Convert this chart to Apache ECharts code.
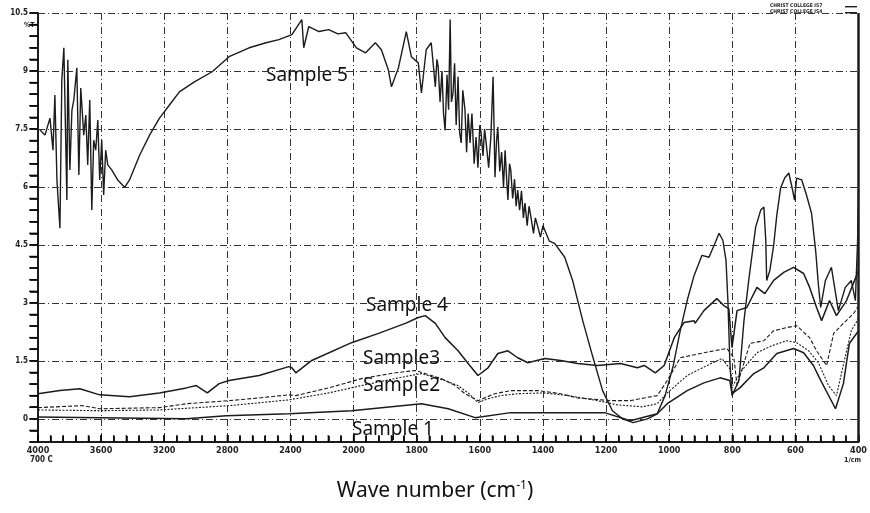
<!DOCTYPE html>
<html>
<head>
<meta charset="utf-8">
<script src="https://cdn.jsdelivr.net/npm/echarts@6/dist/echarts.min.js"></script>
<style>
html, body { margin: 0; padding: 0; background: #fff; }
#box { width: 870px; height: 513px; }
</style>
</head>
<body>
<div id="box"></div>
<script>
// tick labels of the wavenumber axis (scale changes at 2000)
var xTickLabels = ['4000', '3600', '3200', '2800', '2400', '2000', '1800', '1600', '1400', '1200', '1000', '800', '600', '400'];
var yTicks = [0, 1.5, 3, 4.5, 6, 7.5, 9, 10.5];

// [wavenumber 1/cm, %T]
var sample5 = [[3987, 7.47], [3956, 7.34], [3924, 7.78], [3905, 6.95], [3893, 8.38], [3880, 6.18], [3861, 4.93], [3849, 8.77], [3836, 9.6], [3817, 5.66], [3811, 9.29], [3798, 6.44], [3785, 7.99], [3773, 8.25], [3754, 9.08], [3741, 6.31], [3729, 8.56], [3710, 7.34], [3697, 7.86], [3685, 6.57], [3672, 8.25], [3659, 5.4], [3647, 7.21], [3634, 6.95], [3621, 7.73], [3609, 6.18], [3596, 7.21], [3584, 5.79], [3571, 6.95], [3558, 6.57], [3533, 6.44], [3495, 6.18], [3451, 5.99], [3420, 6.18], [3356, 6.82], [3293, 7.34], [3230, 7.78], [3167, 8.12], [3104, 8.46], [3009, 8.72], [2896, 8.98], [2789, 9.37], [2662, 9.6], [2555, 9.73], [2473, 9.81], [2391, 9.94], [2328, 10.33], [2316, 9.6], [2284, 10.15], [2220, 10.02], [2158, 10.07], [2100, 9.96], [2050, 9.99], [1991, 9.6], [1962, 9.47], [1931, 9.73], [1912, 9.55], [1890, 9.03], [1880, 8.59], [1858, 9.08], [1833, 10.02], [1817, 9.37], [1795, 9.21], [1785, 8.43], [1770, 9.55], [1754, 9.73], [1741, 8.59], [1736, 9.3], [1732, 9.11], [1726, 8.2], [1720, 9.0], [1715, 7.9], [1710, 7.47], [1704, 8.9], [1699, 8.0], [1694, 10.33], [1690, 8.2], [1685, 8.43], [1680, 9.2], [1675, 7.6], [1669, 8.85], [1664, 7.4], [1659, 7.14], [1654, 8.5], [1647, 7.99], [1642, 6.9], [1637, 7.9], [1631, 7.14], [1625, 7.9], [1618, 6.6], [1612, 7.29], [1606, 6.5], [1600, 7.6], [1596, 7.4], [1590, 6.8], [1585, 7.5], [1580, 7.14], [1572, 6.5], [1565, 7.3], [1558, 8.85], [1552, 6.25], [1547, 7.2], [1543, 7.55], [1537, 6.4], [1531, 6.9], [1525, 6.0], [1520, 6.95], [1515, 6.2], [1511, 5.66], [1506, 6.6], [1502, 6.44], [1496, 5.7], [1490, 6.2], [1485, 5.5], [1480, 5.92], [1474, 5.4], [1468, 5.9], [1462, 5.2], [1457, 5.58], [1450, 5.0], [1444, 5.5], [1438, 5.22], [1430, 4.8], [1424, 5.2], [1416, 4.96], [1408, 4.7], [1400, 5.0], [1394, 4.88], [1380, 4.6], [1363, 4.54], [1331, 4.18], [1306, 3.58], [1274, 2.54], [1243, 1.63], [1211, 0.73], [1180, 0.21], [1148, 0], [1114, -0.1], [1069, 0], [1038, 0.13], [1013, 0.6], [987, 1.38], [965, 2.28], [943, 3.06], [921, 3.71], [896, 4.23], [874, 4.18], [855, 4.54], [842, 4.8], [830, 4.62], [820, 4.1], [814, 3.06], [808, 1.51], [801, 0.6], [779, 0.99], [763, 2.54], [748, 3.58], [726, 4.96], [710, 5.4], [700, 5.48], [694, 4.62], [691, 3.58], [681, 3.84], [669, 4.49], [659, 5.27], [647, 5.97], [634, 6.23], [621, 6.36], [609, 5.92], [603, 5.66], [596, 6.23], [580, 6.18], [565, 5.79], [549, 5.32], [536, 4.36], [527, 3.45], [520, 2.88], [505, 3.58], [486, 3.92], [464, 2.8], [442, 3.4], [423, 3.58], [410, 3.06], [403, 4.62], [400, 5.92]];
var sample4 = [[4000, 0.65], [3861, 0.73], [3735, 0.78], [3609, 0.62], [3420, 0.57], [3230, 0.67], [3060, 0.8], [2997, 0.86], [2927, 0.67], [2852, 0.91], [2789, 0.99], [2599, 1.12], [2410, 1.35], [2391, 1.32], [2366, 1.19], [2265, 1.51], [2013, 1.97], [1921, 2.21], [1836, 2.47], [1795, 2.62], [1773, 2.67], [1741, 2.47], [1710, 2.1], [1669, 1.76], [1637, 1.43], [1606, 1.12], [1574, 1.32], [1543, 1.69], [1511, 1.76], [1480, 1.58], [1448, 1.45], [1394, 1.56], [1344, 1.51], [1290, 1.43], [1227, 1.38], [1154, 1.43], [1101, 1.32], [1079, 1.38], [1044, 1.19], [1016, 1.38], [984, 2.1], [953, 2.49], [921, 2.54], [918, 2.47], [890, 2.8], [849, 3.11], [827, 2.93], [811, 2.85], [801, 1.84], [785, 2.8], [754, 2.88], [722, 3.4], [697, 3.24], [669, 3.58], [637, 3.79], [606, 3.92], [574, 3.76], [555, 3.4], [533, 2.88], [517, 2.54], [492, 3.06], [470, 2.67], [438, 3.06], [400, 3.84]];
var sample3 = [[4000, 0.29], [3716, 0.34], [3609, 0.26], [3230, 0.29], [3060, 0.39], [2789, 0.47], [2599, 0.54], [2410, 0.62], [2366, 0.6], [2158, 0.8], [1975, 1.04], [1868, 1.19], [1804, 1.25], [1773, 1.17], [1722, 1.04], [1678, 0.86], [1647, 0.65], [1606, 0.47], [1552, 0.65], [1502, 0.73], [1416, 0.73], [1344, 0.65], [1290, 0.54], [1186, 0.47], [1123, 0.47], [1079, 0.54], [1038, 0.6], [1006, 0.99], [965, 1.58], [890, 1.71], [817, 1.82], [795, 1.58], [785, 0.86], [744, 1.95], [700, 2.02], [669, 2.28], [628, 2.36], [596, 2.41], [555, 2.1], [533, 1.76], [501, 1.38], [479, 2.21], [448, 2.47], [416, 2.72], [400, 2.93]];
var sample2 = [[4000, 0.23], [3609, 0.21], [3230, 0.23], [2789, 0.34], [2410, 0.49], [2158, 0.67], [1975, 0.86], [1858, 1.06], [1785, 1.17], [1710, 0.99], [1669, 0.86], [1637, 0.67], [1606, 0.42], [1574, 0.52], [1533, 0.6], [1480, 0.65], [1397, 0.67], [1319, 0.6], [1227, 0.47], [1164, 0.36], [1085, 0.31], [1038, 0.39], [1006, 0.67], [943, 1.12], [880, 1.38], [833, 1.56], [808, 1.3], [798, 0.86], [770, 1.25], [722, 1.71], [675, 1.89], [628, 2.02], [596, 1.97], [558, 1.76], [527, 1.45], [495, 0.86], [470, 0.6], [445, 1.51], [423, 2.28], [400, 2.6]];
var sample1 = [[4000, 0.05], [3609, 0.03], [3060, 0], [2808, 0.08], [2410, 0.13], [2013, 0.21], [1785, 0.39], [1700, 0.26], [1615, 0.03], [1502, 0.16], [1394, 0.16], [1205, 0.16], [1123, -0.05], [1038, 0.13], [1006, 0.39], [943, 0.73], [890, 0.93], [839, 1.06], [808, 0.99], [801, 0.65], [776, 0.8], [732, 1.17], [700, 1.32], [659, 1.69], [606, 1.82], [574, 1.71], [543, 1.38], [524, 1.06], [473, 0.26], [448, 0.91], [429, 1.95], [400, 2.28]];

// axis position: 400 1/cm per division above 2000, 200 below
function toPos(w) {
    if (w >= 2000) return (4000 - w) / 400;
    return 5 + (2000 - w) / 200;
}
function conv(arr) {
    var list = [];
    for (let i = 0; i < arr.length; i++) {
        list.push([toPos(arr[i][0]), arr[i][1]]);
    }
    return list;
}

var gridDash = [7, 3, 1, 3];
var ink = '#1c1c1c';
var labelFont = 'Noto Sans';

var myChart = echarts.init(document.getElementById('box'));

function line(name, data, width, type) {
    return {
        name: name,
        type: 'line',
        data: conv(data),
        symbol: 'none',
        smooth: false,
        lineStyle: { color: ink, width: width, type: type }
    };
}

// horizontal grid every 1.5 and the solid right border, drawn as mark lines
var gridLines = [];
for (let i = 0; i < yTicks.length; i++) {
    gridLines.push({ yAxis: yTicks[i] });
}
gridLines.push({ xAxis: 13, lineStyle: { type: 'solid', width: 2.5, color: ink } });

// small comb marks along both axes (every 0.3 %T, every 1/5 division)
var yComb = [];
for (let i = 0; i <= 37; i++) {
    yComb.push([0, Math.round((-0.6 + i * 0.3) * 100) / 100]);
}
var xComb = [];
for (let i = 0; i <= 65; i++) {
    xComb.push([i / 5, -0.6]);
}

var series = [
    line('Sample 5', sample5, 1.4, 'solid'),
    line('Sample 4', sample4, 1.5, 'solid'),
    line('Sample3', sample3, 1.1, [4, 2]),
    line('Sample2', sample2, 1.1, [2, 1.5]),
    line('Sample 1', sample1, 1.5, 'solid'),
    {
        type: 'scatter', data: yComb, symbol: 'rect', symbolSize: [8, 1.5], symbolOffset: [-5, 0],
        clip: false, silent: true, itemStyle: { color: '#000' }
    },
    {
        type: 'scatter', data: xComb, symbol: 'rect', symbolSize: [1.5, 6], symbolOffset: [0, -4],
        clip: false, silent: true, itemStyle: { color: '#000' }
    }
];
series[4].markLine = {
    silent: true,
    symbol: ['none', 'none'],
    label: { show: false },
    lineStyle: { color: '#333', width: 1, type: gridDash },
    data: gridLines
};

var option = {
    animation: false,
    grid: { left: 38, right: 8, top: 13, bottom: 71 },
    xAxis: {
        type: 'value',
        min: 0,
        max: 13,
        interval: 1,
        axisLine: { show: true, onZero: false, lineStyle: { color: ink, width: 2 } },
        axisTick: { show: true, inside: true, length: 7, lineStyle: { color: '#000', width: 1.6 } },
        minorTick: { show: true, splitNumber: 5, length: 6, lineStyle: { color: '#000', width: 1.6 } },
        axisLabel: {
            color: '#222',
            fontSize: 9,
            fontWeight: 'bold',
            fontFamily: 'DejaVu Sans Condensed',
            margin: 4,
            formatter: function (val) {
                return xTickLabels[Math.round(val)];
            }
        },
        splitLine: { show: true, lineStyle: { color: '#333', width: 1, type: gridDash } }
    },
    yAxis: {
        // small ticks every 0.3, labels only on the 1.5 steps
        type: 'value',
        min: -0.6,
        max: 10.5,
        interval: 0.3,
        axisLine: { show: true, onZero: false, lineStyle: { color: ink, width: 2 } },
        axisTick: { show: true, length: 8, lineStyle: { color: '#000', width: 1.6 } },
        axisLabel: {
            color: '#222',
            fontSize: 8,
            fontWeight: 'bold',
            fontFamily: 'DejaVu Sans Condensed',
            margin: 10,
            formatter: function (val) {
                for (var i = 0; i < yTicks.length; i++) {
                    if (Math.abs(val - yTicks[i]) < 1e-6) return String(yTicks[i]);
                }
                return '';
            }
        },
        splitLine: { show: false }
    },
    series: series,
    graphic: [
        { type: 'text', left: 24, top: 22, style: { text: '%T', fill: '#222', font: 'bold 7px DejaVu Sans Condensed' } },
        { type: 'text', left: 30, top: 456, style: { text: '700 C', fill: '#222', font: 'bold 8px DejaVu Sans Condensed' } },
        { type: 'text', left: 844, top: 457, style: { text: '1/cm', fill: '#222', font: 'bold 7px DejaVu Sans Condensed' } },
        { type: 'text', left: 770, top: 3, style: { text: 'CHRIST COLLEGE IS7', fill: '#222', font: 'bold 5px DejaVu Sans Condensed' } },
        { type: 'text', left: 770, top: 9, style: { text: 'CHRIST COLLEGE IS4', fill: '#222', font: 'bold 5px DejaVu Sans Condensed' } },
        { type: 'rect', left: 845, top: 6, shape: { width: 12, height: 1.4 }, style: { fill: ink } },
        { type: 'rect', left: 845, top: 12, shape: { width: 12, height: 1.4 }, style: { fill: ink } },
        { type: 'text', left: 266, top: 66, style: { text: 'Sample 5', fill: '#111', font: '19px ' + labelFont } },
        { type: 'text', left: 366, top: 296, style: { text: 'Sample 4', fill: '#111', font: '19px ' + labelFont } },
        { type: 'text', left: 363, top: 349, style: { text: 'Sample3', fill: '#111', font: '19px ' + labelFont } },
        { type: 'text', left: 363, top: 376, style: { text: 'Sample2', fill: '#111', font: '19px ' + labelFont } },
        { type: 'text', left: 352, top: 420, style: { text: 'Sample 1', fill: '#111', font: '19px ' + labelFont } },
        {
            type: 'text', left: 'center', top: 480,
            style: {
                text: '{a|Wave number (cm}{s|-1}{a|)}',
                rich: {
                    a: { fontSize: 21, fontFamily: labelFont, fill: '#111' },
                    s: { fontSize: 12, fontFamily: labelFont, fill: '#111', verticalAlign: 'top', padding: [0, 0, 10, 0] }
                }
            }
        }
    ]
};

myChart.setOption(option);
</script>
</body>
</html>
